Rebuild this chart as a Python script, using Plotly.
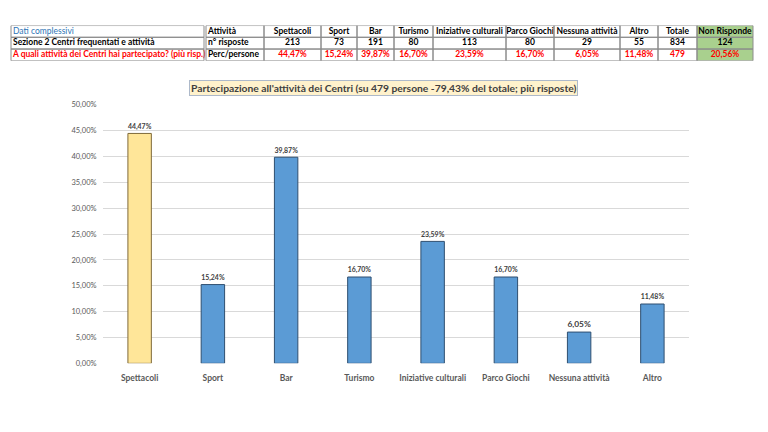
import plotly.graph_objects as go

# chart data
categories = ["Spettacoli", "Sport", "Bar", "Turismo", "Iniziative culturali",
              "Parco Giochi", "Nessuna attività", "Altro"]
perc = [0.4447, 0.1524, 0.3987, 0.1670, 0.2359, 0.1670, 0.0605, 0.1148]
counts = [213, 73, 191, 80, 113, 80, 29, 55]
totale_risposte = 834
totale_persone = 479
non_risponde_n = 124
non_risponde_perc = 0.2056

left_rows = ["Dati complessivi",
             "Sezione 2 Centri frequentati e attività",
             "A quali attività dei Centri hai partecipato? (più risp.)"]

title = "Partecipazione all'attività dei Centri (su 479 persone -79,43% del totale; più risposte)"

W, H = 768, 432
FONT = "Lato"
GRID = "#8c8c8c"
GREEN = "#a9d08e"
RED = "#ff0000"


def pct(v):
    return f"{v*100:.2f}%".replace(".", ",")


## table contents (3 rows)
head = ["Attività"] + categories + ["Totale", "Non Risponde"]
row_n = ["n° risposte"] + [str(c) for c in counts] + [str(totale_risposte), str(non_risponde_n)]
row_p = ["Perc/persone"] + [pct(v) for v in perc] + [str(totale_persone), pct(non_risponde_perc)]
table_rows = [head, row_n, row_p]

# column layout of the two tables (pixel units on the hidden table axis)
left_col = [11, 204]
col_w = [58, 57, 36, 37, 39, 73, 48, 66, 38, 39, 56]
edges = [206]
for w in col_w:
    edges.append(edges[-1] + w)

fig = go.Figure()

## cell fills: heatmap on a hidden axis (None = gap between the two tables)
x_edges = left_col + edges
z = []
for r in range(3):
    z.append([0, None] + [0] * (len(col_w) - 1) + [1])
fig.add_trace(go.Heatmap(
    x=x_edges, y=[0, 1, 2, 3], z=z,
    colorscale=[[0, "white"], [1, GREEN]], zmin=0, zmax=1,
    showscale=False, hoverinfo="skip",
    xaxis="x2", yaxis="y2",
))

## cell borders
for r in range(3):
    fig.add_shape(type="rect", xref="x2", yref="y2",
                  x0=left_col[0], x1=left_col[1], y0=r, y1=r + 1,
                  line=dict(color=GRID, width=1))
    for c in range(len(col_w)):
        fig.add_shape(type="rect", xref="x2", yref="y2",
                      x0=edges[c], x1=edges[c + 1], y0=r, y1=r + 1,
                      line=dict(color=GRID, width=1))

## cell texts
tx, ty, tt, tpos, tcol = [], [], [], [], []
left_colors = ["#2e75b6", "#000000", RED]
for r, s in enumerate(left_rows):
    tx.append(left_col[0] + 2)
    ty.append(r + 0.5)
    tt.append(s if r == 0 else "<b>" + s + "</b>")
    tpos.append("middle right")
    tcol.append(left_colors[r])
for r, row in enumerate(table_rows):
    for c, s in enumerate(row):
        if c == 0:
            tx.append(edges[0] + 2)
            tpos.append("middle right")
        else:
            tx.append((edges[c] + edges[c + 1]) / 2)
            tpos.append("middle center")
        ty.append(r + 0.5)
        tt.append("<b>" + s + "</b>")
        tcol.append(RED if (r == 2 and c > 0) else "#000000")

fig.add_trace(go.Scatter(
    x=tx, y=ty, text=tt, mode="text",
    textposition=tpos,
    textfont=dict(family=FONT, size=8.5, color=tcol),
    hoverinfo="skip", showlegend=False,
    xaxis="x2", yaxis="y2",
))

## bar chart
bar_colors = ["#ffe699"] + ["#5b9bd5"] * (len(categories) - 1)
line_colors = ["#7f6a3a"] + ["#2f4f70"] * (len(categories) - 1)

fig.add_trace(go.Bar(
    x=categories, y=perc,
    width=0.32,
    marker=dict(color=bar_colors, line=dict(color=line_colors, width=1)),
    texttemplate="<b>%{y:.2%}</b>",
    textposition="outside",
    textfont=dict(family=FONT, size=8.5, color="#404040"),
    cliponaxis=False,
    showlegend=False,
))

fig.update_layout(
    xaxis=dict(
        domain=[103/W, 689/W],
        showgrid=False, showline=False, zeroline=False,
        tickfont=dict(family=FONT, size=8.5, color="#595959", weight="bold"),
        ticks="outside", ticklen=6, tickcolor="rgba(0,0,0,0)",
    ),
    yaxis=dict(
        domain=[1-367/H, 1-103/H],
        range=[0, 0.5], dtick=0.05, tickformat=".2%",
        gridcolor="#d9d9d9", gridwidth=1, zeroline=False, showline=False,
        tickfont=dict(family=FONT, size=7.5, color="#595959"),
        ticks="outside", ticklen=4, tickcolor="rgba(0,0,0,0)",
    ),
    xaxis2=dict(domain=[0, 1], range=[0, W], visible=False,
                anchor="y2", fixedrange=True),
    yaxis2=dict(domain=[1-58/H, 1-22/H], range=[3, 0], visible=False,
                anchor="x2", fixedrange=True),
)

fig.add_annotation(
    x=383/W, y=1-86/H, xref="paper", yref="paper",
    xanchor="center", yanchor="middle",
    text="<b>" + title + "</b>", showarrow=False,
    font=dict(family=FONT, size=10.3, color="#404040"),
    bgcolor="#fff2cc", bordercolor="#adb9ca", borderwidth=1, borderpad=1,
)

fig.update_layout(
    width=W, height=H,
    separators=",.",
    margin={"r": 0, "t": 0, "l": 0, "b": 0},
    paper_bgcolor="white", plot_bgcolor="white",
    font=dict(family=FONT, size=9, color="#404040"),
    showlegend=False,
)

## page body has a default margin; drop it so the figure fills the window
fig.write_html("out.html", config={"displayModeBar": False},
               post_script="document.body.style.margin='0px';")
